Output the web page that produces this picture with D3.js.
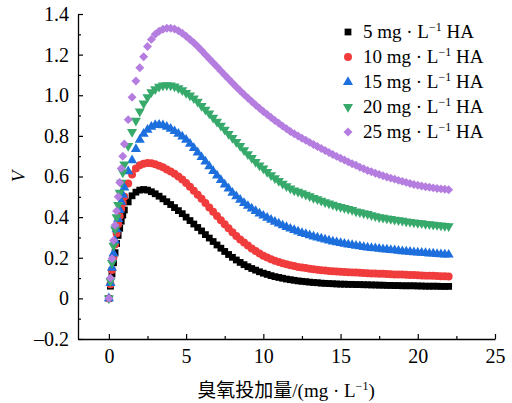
<!DOCTYPE html>
<html>
<head>
<meta charset="utf-8">
<script src="https://cdn.jsdelivr.net/npm/d3@7"></script>
<style>
  body { margin: 0; background: #fff; }
</style>
</head>
<body>
<div id="chart"></div>
<script>
// ozone dose (mg/L)
var xs = [0, 0.1, 0.2, 0.3, 0.4, 0.5, 0.6, 0.7, 0.8, 0.9,
  1, 1.25, 1.5, 1.75, 2, 2.25, 2.5, 2.75, 3, 3.25, 3.5, 3.75, 4, 4.25, 4.5, 4.75,
  5, 5.25, 5.5, 5.75, 6, 6.25, 6.5, 6.75, 7, 7.25, 7.5, 7.75, 8, 8.25, 8.5, 8.75,
  9, 9.25, 9.5, 9.75, 10, 10.25, 10.5, 10.75, 11, 11.25, 11.5, 11.75, 12, 12.25, 12.5, 12.75,
  13, 13.25, 13.5, 13.75, 14, 14.25, 14.5, 14.75, 15, 15.25, 15.5, 15.75, 16, 16.25, 16.5, 16.75,
  17, 17.25, 17.5, 17.75, 18, 18.25, 18.5, 18.75, 19, 19.25, 19.5, 19.75, 20, 20.25, 20.5, 20.75,
  21, 21.25, 21.5, 21.75, 22];

var ha5 = [0, 0.06, 0.12, 0.175, 0.225, 0.27, 0.31, 0.345, 0.38, 0.41,
  0.435, 0.475, 0.505, 0.523, 0.533, 0.536, 0.533, 0.525, 0.515, 0.503, 0.49, 0.476, 0.462, 0.447, 0.432, 0.417,
  0.40, 0.383, 0.366, 0.349, 0.332, 0.314, 0.297, 0.28, 0.263, 0.247, 0.231, 0.216, 0.202, 0.189, 0.177, 0.166,
  0.156, 0.147, 0.139, 0.131, 0.124, 0.118, 0.112, 0.107, 0.103, 0.099, 0.095, 0.092, 0.089, 0.086, 0.084, 0.082,
  0.08, 0.078, 0.077, 0.075, 0.074, 0.073, 0.072, 0.071, 0.07, 0.07, 0.069, 0.069, 0.068, 0.068, 0.067, 0.067,
  0.066, 0.066, 0.065, 0.065, 0.064, 0.064, 0.063, 0.063, 0.062, 0.062, 0.062, 0.062, 0.061, 0.061, 0.06, 0.06,
  0.06, 0.06, 0.059, 0.059, 0.059];

var ha10 = [0, 0.07, 0.14, 0.205, 0.265, 0.32, 0.365, 0.405, 0.44, 0.47,
  0.50, 0.565, 0.61, 0.64, 0.655, 0.663, 0.666, 0.665, 0.66, 0.653, 0.645, 0.635, 0.625, 0.613, 0.60, 0.585,
  0.568, 0.55, 0.53, 0.51, 0.49, 0.469, 0.447, 0.426, 0.405, 0.385, 0.365, 0.345, 0.325, 0.307, 0.29, 0.275,
  0.26, 0.246, 0.233, 0.221, 0.21, 0.201, 0.193, 0.185, 0.179, 0.173, 0.168, 0.163, 0.159, 0.155, 0.152, 0.149,
  0.146, 0.143, 0.141, 0.139, 0.137, 0.135, 0.134, 0.132, 0.131, 0.13, 0.129, 0.128, 0.127, 0.126, 0.125, 0.124,
  0.123, 0.122, 0.121, 0.121, 0.12, 0.119, 0.118, 0.118, 0.117, 0.116, 0.115, 0.115, 0.114, 0.113, 0.112, 0.112,
  0.111, 0.11, 0.109, 0.109, 0.108];

var ha15 = [0, 0.075, 0.15, 0.22, 0.285, 0.34, 0.39, 0.435, 0.475, 0.51,
  0.545, 0.625, 0.68, 0.735, 0.78, 0.81, 0.83, 0.845, 0.853, 0.855, 0.852, 0.845, 0.835, 0.823, 0.81, 0.796,
  0.78, 0.761, 0.74, 0.718, 0.695, 0.673, 0.65, 0.627, 0.605, 0.582, 0.56, 0.54, 0.52, 0.502, 0.485, 0.469,
  0.455, 0.442, 0.43, 0.418, 0.407, 0.397, 0.387, 0.377, 0.368, 0.359, 0.351, 0.343, 0.336, 0.329, 0.322, 0.316,
  0.31, 0.304, 0.299, 0.294, 0.289, 0.284, 0.28, 0.276, 0.272, 0.268, 0.265, 0.262, 0.259, 0.256, 0.253, 0.25,
  0.248, 0.246, 0.244, 0.242, 0.24, 0.238, 0.236, 0.234, 0.232, 0.23, 0.229, 0.227, 0.226, 0.224, 0.223, 0.221,
  0.22, 0.218, 0.217, 0.216, 0.215];

var ha20 = [0, 0.085, 0.175, 0.26, 0.34, 0.40, 0.46, 0.52, 0.57, 0.62,
  0.66, 0.75, 0.82, 0.875, 0.92, 0.96, 0.99, 1.015, 1.03, 1.042, 1.048, 1.05, 1.048, 1.043, 1.035, 1.025,
  1.012, 0.999, 0.985, 0.968, 0.948, 0.929, 0.91, 0.89, 0.87, 0.85, 0.83, 0.81, 0.79, 0.77, 0.75, 0.73,
  0.71, 0.691, 0.672, 0.655, 0.64, 0.623, 0.607, 0.592, 0.578, 0.565, 0.552, 0.541, 0.532, 0.525, 0.518, 0.51,
  0.503, 0.495, 0.488, 0.481, 0.474, 0.467, 0.461, 0.455, 0.45, 0.445, 0.44, 0.435, 0.428, 0.424, 0.42, 0.416,
  0.41, 0.405, 0.40, 0.397, 0.394, 0.391, 0.388, 0.385, 0.382, 0.379, 0.377, 0.374, 0.372, 0.37, 0.367, 0.365,
  0.363, 0.361, 0.359, 0.357, 0.355];

var ha25 = [0, 0.10, 0.195, 0.285, 0.36, 0.43, 0.50, 0.57, 0.64, 0.70,
  0.76, 0.88, 0.99, 1.07, 1.135, 1.19, 1.24, 1.275, 1.30, 1.315, 1.325, 1.33, 1.33, 1.326, 1.318, 1.305,
  1.29, 1.274, 1.258, 1.24, 1.22, 1.2, 1.18, 1.16, 1.14, 1.12, 1.10, 1.08, 1.06, 1.041, 1.022, 1.004,
  0.986, 0.969, 0.952, 0.936, 0.92, 0.905, 0.89, 0.876, 0.862, 0.848, 0.835, 0.822, 0.81, 0.799, 0.788, 0.778,
  0.768, 0.758, 0.748, 0.738, 0.728, 0.718, 0.708, 0.699, 0.69, 0.681, 0.672, 0.663, 0.655, 0.646, 0.638, 0.63,
  0.623, 0.616, 0.61, 0.604, 0.598, 0.592, 0.587, 0.581, 0.576, 0.571, 0.566, 0.561, 0.557, 0.553, 0.55, 0.547,
  0.544, 0.541, 0.539, 0.537, 0.535];

var seriesNames = ["5", "10", "15", "20", "25"];
var seriesValues = [ha5, ha10, ha15, ha20, ha25];
var colors = ["#000000", "#f03c3c", "#1c6fdc", "#36a96b", "#b47ddf"];

var xTicks = [0, 5, 10, 15, 20, 25],
    xMinor = [2.5, 7.5, 12.5, 17.5, 22.5],
    yTicks = [-0.2, 0, 0.2, 0.4, 0.6, 0.8, 1.0, 1.2, 1.4],
    yMinor = [-0.1, 0.1, 0.3, 0.5, 0.7, 0.9, 1.1, 1.3];

var FONT = "'Times New Roman', 'Liberation Serif', 'Noto Sans CJK SC', serif";

// size and margins
var W = 512, H = 403;
var margin = {top: 14, right: 17, bottom: 64, left: 78};

var x = d3.scaleLinear().domain([-2, 25]).range([margin.left, W - margin.right]),
    y = d3.scaleLinear().domain([-0.2, 1.4]).range([H - margin.bottom, margin.top]);

var svg = d3.select("#chart").append("svg")
    .attr("width", W)
    .attr("height", H)
    .style("font-family", FONT);

// markers: square, circle, up triangle, down triangle, diamond
var shapes = [
  {type: d3.symbolSquare, size: 46, rot: 0},
  {type: d3.symbolCircle, size: 50, rot: 0},
  {type: d3.symbolTriangle, size: 44, rot: 0},
  {type: d3.symbolTriangle, size: 44, rot: 180},
  {type: d3.symbolSquare, size: 40, rot: 45}
];

function sym(i) { return d3.symbol().type(shapes[i].type).size(shapes[i].size)(); }

seriesValues.forEach(function(vals, i) {
  svg.append("g")
    .selectAll("path")
    .data(vals)
    .enter().append("path")
      .attr("d", sym(i))
      .attr("fill", colors[i])
      .attr("transform", function(d, j) {
        return "translate(" + x(xs[j]) + "," + y(d) + ") rotate(" + shapes[i].rot + ")";
      });
});

// axes
var yAxis = d3.axisLeft(y).tickValues(yTicks).tickSize(-5).tickSizeOuter(0).tickPadding(9)
    .tickFormat(function(d) { return d === 0 ? "0" : (d < 0 ? "\u2013" + Math.abs(d).toFixed(1) : d.toFixed(1)); });
var xAxis = d3.axisBottom(x).tickValues(xTicks).tickSize(-5).tickSizeOuter(0).tickPadding(10);

var gy = svg.append("g").attr("transform", "translate(" + margin.left + ",0)").call(yAxis);
svg.append("g").attr("transform", "translate(" + margin.left + ",0)")
    .call(d3.axisLeft(y).tickValues(yMinor).tickSize(-3).tickFormat(""))
    .select(".domain").remove();

var gx = svg.append("g").attr("transform", "translate(0," + (H - margin.bottom) + ")").call(xAxis);
svg.append("g").attr("transform", "translate(0," + (H - margin.bottom) + ")")
    .call(d3.axisBottom(x).tickValues(xMinor).tickSize(-3).tickFormat(""))
    .select(".domain").remove();

svg.selectAll("g").attr("font-family", null).attr("font-size", null);
svg.selectAll(".domain").attr("stroke", "#000").attr("stroke-width", 1.3);
svg.selectAll(".tick line").attr("stroke", "#000").attr("stroke-width", 1.2);
svg.selectAll(".tick text").attr("font-size", 20).attr("fill", "#000");

// axis titles
svg.append("text")
    .attr("transform", "translate(25," + y(0.6) + ") rotate(-90)")
    .attr("text-anchor", "middle")
    .attr("font-size", 19)
    .attr("font-style", "italic")
    .text("V");

var xt = svg.append("text")
    .attr("x", 286)
    .attr("y", 397)
    .attr("text-anchor", "middle")
    .attr("font-size", 19);
xt.append("tspan").text("臭氧投加量/(mg · L");
xt.append("tspan").attr("font-size", 12).attr("dy", -7).text("−1");
xt.append("tspan").attr("dy", 7).text(")");

// legend
var legend = svg.append("g");
seriesNames.forEach(function(name, i) {
  var ly = 32 + i * 25;
  legend.append("path")
      .attr("d", sym(i))
      .attr("fill", colors[i])
      .attr("transform", "translate(348," + ly + ") rotate(" + shapes[i].rot + ")");
  var t = legend.append("text")
      .attr("x", 363)
      .attr("y", ly + 6)
      .attr("font-size", 19);
  t.append("tspan").text(name + " mg · L");
  t.append("tspan").attr("font-size", 12).attr("dy", -7).text("−1");
  t.append("tspan").attr("dy", 7).text(" HA");
});
</script>
</body>
</html>
